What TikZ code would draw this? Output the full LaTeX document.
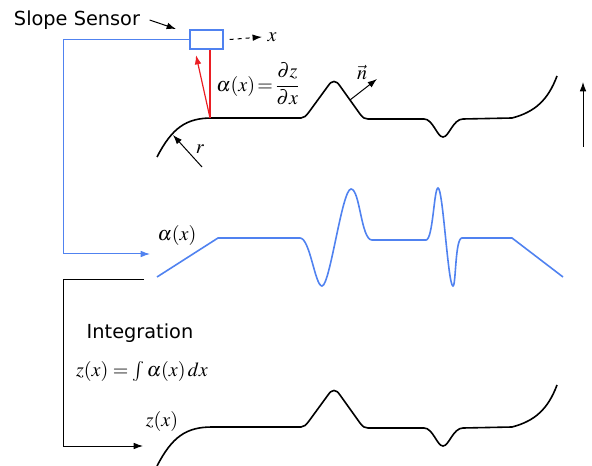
\documentclass[tikz,border=0pt]{standalone}
\usepackage{amsmath}
\usepackage{mathptmx}
\usepackage{fontspec}
\newfontfamily\sensfont{DejaVu Sans}
\usepackage{tikz}
\usetikzlibrary{arrows.meta}
\definecolor{sensblue}{RGB}{80,130,240}
\definecolor{sensred}{RGB}{235,30,35}

\begin{document}
\begin{tikzpicture}[x=0.75pt,y=-0.75pt,>={Latex[length=7pt,width=5pt]},
    surf/.style={black,line width=1.2pt},
    slope/.style={sensblue,line width=1.2pt},
    link/.style={line width=0.75pt},
    lbl/.style={font=\fontsize{14.5}{17}\selectfont\sensfont,inner sep=1pt},
    eq/.style={font=\fontsize{15}{18}\selectfont,inner sep=1pt}]
  \useasboundingbox (0,0) rectangle (592,466);
  % sensor and its labels
  \node[lbl] (sensorlabel) at (77,20) {Slope Sensor};
  \node[draw=sensblue,line width=0.9pt,minimum width=24.75pt,minimum height=14.25pt,inner sep=0pt] (sensor) at (206.5,39.5) {};
  \coordinate (sensortip) at (176,29);
  \draw[link,->] ([xshift=6pt]sensorlabel.east) -- (sensortip);
  \node[eq] (xaxis) at (272,37) {$x$};
  \draw[link,->,dashed] ([xshift=4.5pt]sensor.east) -- ([xshift=-3pt]xaxis.west);
  % surface profile z(x), measured and reconstructed
  \foreach \dy in {0,309} {
    \draw[surf,shift={(0,\dy)}] (157,157) .. controls (172,128) and (186,118) .. (212,118)
      -- (301,118) .. controls (304,118) and (306,116) .. (309,112) -- (328,86)
      .. controls (332,80) and (336,80) .. (340,86) -- (360,114)
      .. controls (363,118) and (365,119) .. (368,119) -- (424,119)
      .. controls (433,119) and (437,137) .. (443,137)
      .. controls (449,137) and (453,119) .. (463,119) -- (512,118)
      .. controls (535,112) and (548,100) .. (557,76);
  }
  % beam from the surface
  \coordinate (touch) at (210,118);
  \coordinate (beamtip) at (196,55);
  \draw[sensred,line width=0.9pt] (touch) -- (touch |- sensor.south);
  \draw[sensred,line width=0.9pt,->] (touch) -- (beamtip);
  \node[eq] (slopeeq) at (258,84) {$\alpha(x)\!=\!\dfrac{\partial z}{\partial x}$};
  % normal and radius
  \coordinate (nfoot) at (350,100);
  \coordinate (ntip) at (377,79);
  \draw[link,->] (nfoot) -- (ntip);
  \node[eq] (nlabel) at (362,72) {$\vec{n}$};
  \coordinate (rfoot) at (202,167);
  \coordinate (rtip) at (173,135);
  \draw[link,->] (rfoot) -- (rtip);
  \node[eq] (rlabel) at (200,149) {$r$};
  \coordinate (zbottom) at (583,147);
  \coordinate (ztop) at (583,82);
  \draw[link,->] (zbottom) -- (ztop);
  % slope signal
  \draw[slope] (157,277) -- (218,238) -- (300,238)
    .. controls (310,238) and (315,286) .. (322,286)
    .. controls (330,286) and (342,189) .. (351,189)
    .. controls (360,189) and (361,240) .. (372,240) -- (426,240)
    .. controls (433,240) and (434,188) .. (438,188)
    .. controls (443,188) and (448,286) .. (453,286)
    .. controls (456,286) and (455,238) .. (462,238) -- (512,238) -- (563,277);
  \node[eq] (alphalabel) at (177,236) {$\alpha(x)$};
  \coordinate (bluebend) at (63,254);
  \coordinate (alphain) at (150,254);
  \draw[link,sensblue,->] (sensor.west) -| (bluebend) -- (alphain);
  % integration
  \node[lbl] (intlabel) at (140,333) {Integration};
  \node[eq] (inteq) at (142,371) {$z(x)=\int\alpha(x)\,dx$};
  \node[eq] (zlabel) at (162,421) {$z(x)$};
  \coordinate (zout) at (144,280);
  \coordinate (blackbend) at (63,446);
  \coordinate (zin) at (143,446);
  \draw[link,->] (zout) -| (blackbend) -- (zin);
\end{tikzpicture}
\end{document}
